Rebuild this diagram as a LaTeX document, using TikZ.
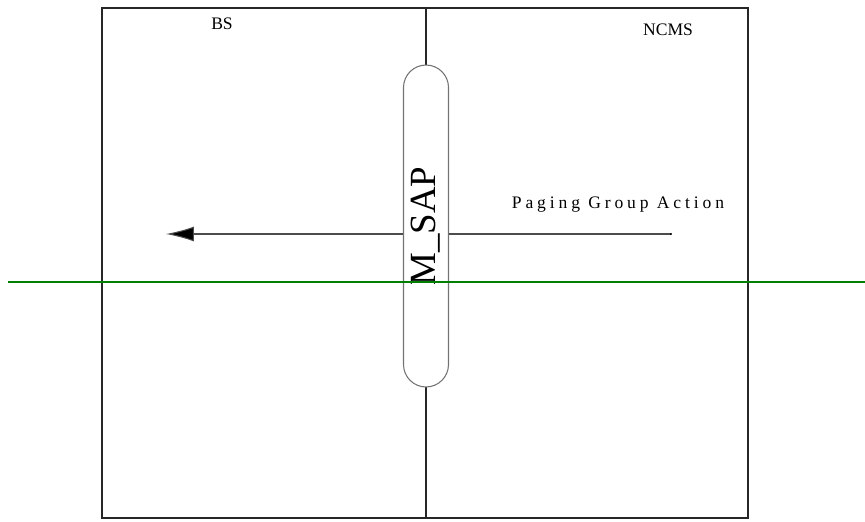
\documentclass[tikz,border=0pt]{standalone}
\usepackage{fontspec}
\setmainfont{Liberation Serif}
\newfontfamily\spacedfont[LetterSpace=22]{Liberation Serif}
\usepackage{tikz}
\usetikzlibrary{arrows.meta, shapes.misc}

\definecolor{cutgreen}{RGB}{0,128,0}
\tikzset{
	frame/.style={line width=0.9pt, black!85},
	sap/.style={rounded rectangle, draw=black!55, fill=white, line width=0.6pt,
		minimum width=6.44cm, minimum height=0.9cm, inner sep=0pt},
	label/.style={font=\fontsize{10}{12}\selectfont, inner sep=0pt, anchor=base}
}

\begin{document}
\begin{tikzpicture}[x=0.02cm, y=-0.02cm]
		\useasboundingbox (0,0) rectangle (865,521);

		% Frame
		\draw[frame] (102,8) rectangle (748,518);
		\coordinate (top) at (426,8);
		\coordinate (bottom) at (426,518);
		\draw[frame] (top) -- (bottom);

		% Titles
		\node[label] (bs) at (222,29) {BS};
		\node[label] (ncms) at (668,35) {NCMS};

		% Primitive
		\coordinate (src) at (671,234);
		\coordinate (dst) at (166,234);
		\draw[black!70, line width=0.6pt, -{Latex[length=0.56cm, width=0.3cm, fill=black]}] (src) -- (dst);
		\fill (src) circle (1.2);
		\node[label, font=\spacedfont\fontsize{10}{12}\selectfont] (pga) at (618,208) {Paging Group Action};

		% SAP
		\node[sap, rotate=90] (msap) at (426,226) {\fontsize{21}{24}\selectfont M\_SAP};

		% Cut line
		\coordinate (cutl) at (8,282);
		\coordinate (cutr) at (865,282);
		\draw[cutgreen, line width=0.9pt] (cutl) -- (cutr);
	\end{tikzpicture}
\end{document}
